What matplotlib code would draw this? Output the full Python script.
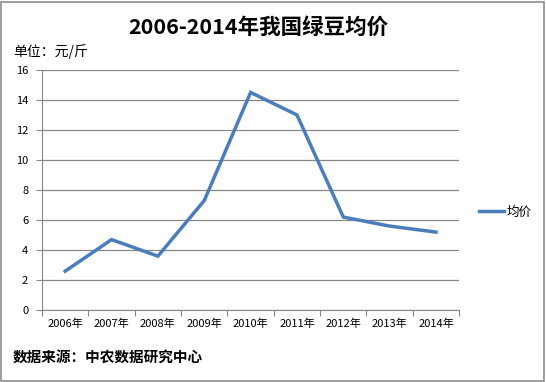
import matplotlib
matplotlib.use("Agg")
import matplotlib.pyplot as plt
from matplotlib.patches import Rectangle

plt.rcParams['font.family'] = ['Noto Sans CJK SC', 'DejaVu Sans']

years = ['2006年', '2007年', '2008年', '2009年', '2010年', '2011年', '2012年', '2013年', '2014年']
prices = [2.6, 4.7, 3.6, 7.3, 14.5, 13.0, 6.2, 5.6, 5.2]
yticks = [0, 2, 4, 6, 8, 10, 12, 14, 16]

fig = plt.figure(figsize=(5.46, 3.82), dpi=100)
fig.patches.append(Rectangle((0.002, 0.003), 0.995, 0.993, transform=fig.transFigure,
                             fill=False, edgecolor='#8c8c8c', linewidth=1.2))
ax = fig.add_axes([0.077, 0.188, 0.764, 0.629])
x = list(range(len(years)))
ax.plot(x, prices, color='#4a7ebb', linewidth=2.5, label='均价', solid_joinstyle='miter')
ax.set_xlim(-0.5, len(years) - 0.5)
ax.set_ylim(0, 16)
ax.set_yticks(yticks)
ax.set_yticklabels([str(v) for v in yticks], fontsize=8)
ax.set_xticks([i - 0.5 for i in range(len(years) + 1)])
ax.set_xticklabels([])
ax.set_xticks(x, minor=True)
ax.set_xticklabels(years, minor=True, fontsize=8)
ax.tick_params(axis='x', which='minor', length=0, pad=6)
ax.tick_params(axis='x', which='major', length=4, color='#868686')
ax.tick_params(axis='y', length=4, color='#868686', pad=6)
ax.grid(axis='y', color='#868686', linewidth=0.9)
ax.set_axisbelow(True)
for s in ['top', 'right']:
    ax.spines[s].set_visible(False)
for s in ['left', 'bottom']:
    ax.spines[s].set_color('#868686')
leg = fig.legend(loc='center left', bbox_to_anchor=(0.856, 0.445), frameon=False,
                 fontsize=9, handlelength=2.0, handletextpad=0.2)
fig.text(0.474, 0.929, '2006-2014年我国绿豆均价', ha='center', va='center',
         fontsize=15.5, fontweight='bold')
fig.text(0.024, 0.864, '单位：元/斤', ha='left', va='center', fontsize=10)
fig.text(0.024, 0.065, '数据来源：中农数据研究中心', ha='left', va='center',
         fontsize=10.5, fontweight='bold')
fig.savefig('out.png', dpi=100)
